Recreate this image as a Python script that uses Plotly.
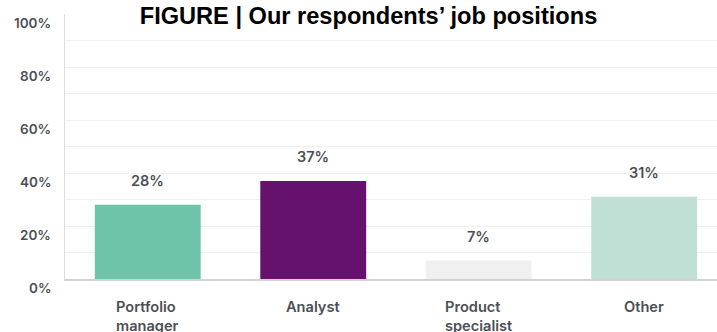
import plotly.graph_objects as go

# Survey data: share of respondents by job position
categories = ["Portfolio manager", "Analyst", "Product specialist", "Other"]
category_labels = ["Portfolio<br>manager", "Analyst", "Product<br>specialist", "Other"]
shares = [28, 37, 7, 31]
bar_colors = ["#6ec4a9", "#66116e", "#f0f0f0", "#c0e0d6"]

grid_values = [0, 10, 20, 30, 40, 50, 60, 70, 80, 90]
label_values = [0, 20, 40, 60, 80, 100]
label_texts = ["0%", "20%", "40%", "60%", "80%", "100%"]

TEXT = "#4b4f55"
FONT = "Inter"

fig = go.Figure()
fig.add_trace(go.Bar(
    x=categories,
    y=shares,
    marker=dict(color=bar_colors, line=dict(width=0)),
    width=0.64,
    hoverinfo="skip",
))

annotations = []
# value labels above bars
for cat, v in zip(categories, shares):
    annotations.append(dict(
        x=cat, y=v, xref="x", yref="y", text=f"{v}%", showarrow=False,
        yanchor="middle", yshift=24,
        font=dict(family=FONT, size=14.5, color=TEXT, weight=600),
    ))
# category labels under the baseline
for cat, lab in zip(categories, category_labels):
    annotations.append(dict(
        x=cat, y=0, xref="x", yref="y", text=lab, showarrow=False,
        yanchor="top", yshift=-17, align="left",
        font=dict(family=FONT, size=14.6, color=TEXT, weight=600),
    ))
# y-axis labels
for v, t in zip(label_values, label_texts):
    annotations.append(dict(
        x=0, y=v, xref="paper", yref="y", text=t, showarrow=False,
        xanchor="right", yanchor="middle", xshift=-12, yshift=-9,
        font=dict(family=FONT, size=13.5, color=TEXT, weight=600),
    ))

fig.update_layout(
    width=717, height=332,
    margin=dict(l=65, r=0, t=14, b=53, pad=0),
    paper_bgcolor="white", plot_bgcolor="white",
    showlegend=False,
    bargap=0.36,
    title=dict(
        text="<b>FIGURE | Our respondents’ job positions</b>",
        font=dict(family="Liberation Sans", size=23.6, color="#000000"),
        xref="container", x=368.5 / 717, xanchor="center",
        yref="container", y=1 - 16 / 332, yanchor="middle",
    ),
    annotations=annotations,
    xaxis=dict(
        range=[-0.5, 3.44], showticklabels=False, ticks="",
        showgrid=False, zeroline=False,
        showline=True, linecolor="#d2d2d2", linewidth=1.5,
    ),
    yaxis=dict(
        range=[0, 100], tickvals=grid_values, showticklabels=False, ticks="",
        showgrid=True, gridcolor="#efefef", gridwidth=1, zeroline=False,
        showline=True, linecolor="#dcdcdc", linewidth=1,
    ),
)

fig.write_html("out.html")
